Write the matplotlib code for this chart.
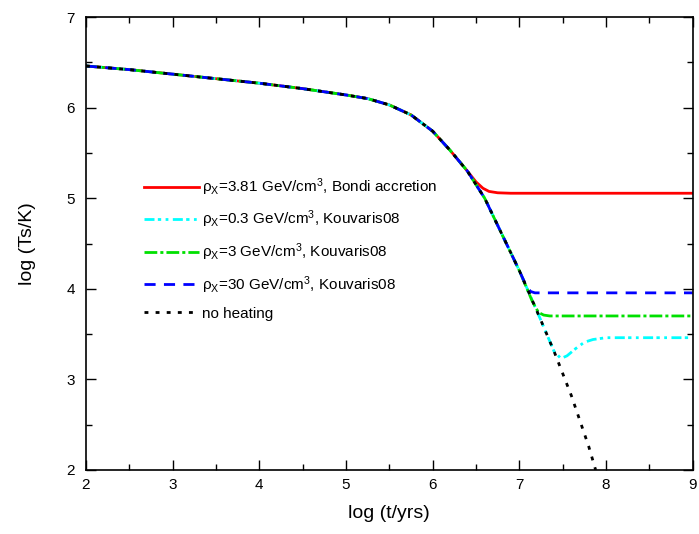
import numpy as np
import matplotlib
matplotlib.use("Agg")
import matplotlib.pyplot as plt

plt.rcParams['font.family'] = ['Liberation Sans', 'DejaVu Sans']
plt.rcParams['mathtext.fontset'] = 'custom'
plt.rcParams['mathtext.rm'] = 'Liberation Sans'
plt.rcParams['mathtext.it'] = 'Liberation Sans'
plt.rcParams['mathtext.default'] = 'regular'

# Common cooling curve (no heating)
x_cool = [2.0, 2.5, 3.0, 3.5, 4.0, 4.5, 5.0, 5.25, 5.5, 5.75, 6.0, 6.2, 6.4, 6.6, 6.8, 7.0, 7.2, 7.4, 7.6, 7.8, 7.88]
y_cool = [6.46, 6.42, 6.37, 6.32, 6.27, 6.21, 6.14, 6.10, 6.03, 5.92, 5.74, 5.53, 5.30, 5.00, 4.60, 4.20, 3.76, 3.31, 2.82, 2.26, 2.00]

# Bondi accretion (rho=3.81)
x_red = [2.0, 2.5, 3.0, 3.5, 4.0, 4.5, 5.0, 5.25, 5.5, 5.75, 6.0, 6.2, 6.4, 6.5, 6.58, 6.65, 6.75, 6.9, 9.0]
y_red = [6.46, 6.42, 6.37, 6.32, 6.27, 6.21, 6.14, 6.10, 6.03, 5.92, 5.74, 5.53, 5.30, 5.18, 5.11, 5.075, 5.06, 5.055, 5.055]

# rho = 0.3
x_cyan = [2.0, 2.5, 3.0, 3.5, 4.0, 4.5, 5.0, 5.25, 5.5, 5.75, 6.0, 6.2, 6.4, 6.6, 6.8, 7.0, 7.2, 7.4, 7.48, 7.55, 7.65, 7.75, 7.85, 8.0, 9.0]
y_cyan = [6.46, 6.42, 6.37, 6.32, 6.27, 6.21, 6.14, 6.10, 6.03, 5.92, 5.74, 5.53, 5.30, 5.00, 4.60, 4.20, 3.76, 3.31, 3.23, 3.26, 3.34, 3.41, 3.44, 3.46, 3.46]

# rho = 3
x_green = [2.0, 2.5, 3.0, 3.5, 4.0, 4.5, 5.0, 5.25, 5.5, 5.75, 6.0, 6.2, 6.4, 6.6, 6.8, 7.0, 7.15, 7.22, 7.28, 7.35, 9.0]
y_green = [6.46, 6.42, 6.37, 6.32, 6.27, 6.21, 6.14, 6.10, 6.03, 5.92, 5.74, 5.53, 5.30, 5.00, 4.60, 4.20, 3.86, 3.74, 3.71, 3.70, 3.70]

# rho = 30
x_blue = [2.0, 2.5, 3.0, 3.5, 4.0, 4.5, 5.0, 5.25, 5.5, 5.75, 6.0, 6.2, 6.4, 6.6, 6.8, 7.0, 7.08, 7.13, 7.18, 7.25, 9.0]
y_blue = [6.46, 6.42, 6.37, 6.32, 6.27, 6.21, 6.14, 6.10, 6.03, 5.92, 5.74, 5.53, 5.30, 5.00, 4.60, 4.20, 4.03, 3.97, 3.955, 3.955, 3.955]

labels = [r'$\rho_X$=3.81 GeV/cm$^3$, Bondi accretion',
          r'$\rho_X$=0.3 GeV/cm$^3$, Kouvaris08',
          r'$\rho_X$=3 GeV/cm$^3$, Kouvaris08',
          r'$\rho_X$=30 GeV/cm$^3$, Kouvaris08',
          'no heating']

fig = plt.figure(figsize=(6.99, 5.34), dpi=100)
ax = fig.add_axes([0.123, 0.120, 0.868, 0.848])

lw = 2.0
ax.plot(x_red, y_red, color='#ff0000', lw=lw, ls='-', label=labels[0])
ax.plot(x_cyan, y_cyan, color='#00ffff', lw=lw, ls=(0, (3.6, 1.2, 1.2, 1.6, 1.0, 1.6)), label=labels[1])
ax.plot(x_green, y_green, color='#00e000', lw=lw, ls=(0, (4.6, 1.1, 1.1, 1.1)), label=labels[2])
ax.plot(x_blue, y_blue, color='#0000ff', lw=lw, ls=(0, (4.0, 3.0)), label=labels[3])
ax.plot(x_cool, y_cool, color='black', lw=lw, ls=(0, (1.4, 2.6)), label=labels[4])

ax.set_xlim(2, 9)
ax.set_ylim(2, 7)
ax.set_xticks([2, 3, 4, 5, 6, 7, 8, 9])
ax.set_yticks([2, 3, 4, 5, 6, 7])
ax.set_xticks(np.arange(2.5, 9, 1.0), minor=True)
ax.set_yticks(np.arange(2.5, 7, 1.0), minor=True)
ax.tick_params(which='both', direction='in', top=True, right=True, labelsize=11, colors='black')
ax.tick_params(which='major', length=7, width=1.0)
ax.tick_params(which='minor', length=4, width=1.0)
ax.tick_params(axis='x', which='major', pad=6)
ax.tick_params(axis='y', which='major', pad=8)
for s in ax.spines.values():
    s.set_linewidth(1.2)

ax.set_xlabel('log (t/yrs)', fontsize=14, labelpad=9)
ax.set_ylabel('log (Ts/K)', fontsize=14, labelpad=22)

leg = ax.legend(loc='upper left', bbox_to_anchor=(0.085, 0.662), frameon=False,
                fontsize=11, handlelength=3.6, handletextpad=0.2, labelspacing=0.72,
                borderaxespad=0)

fig.savefig('out.png', dpi=100)
